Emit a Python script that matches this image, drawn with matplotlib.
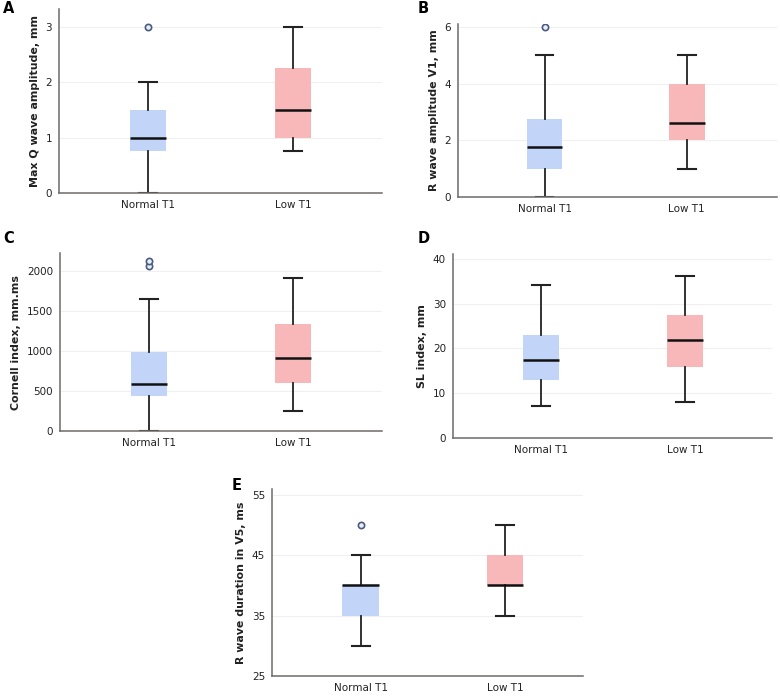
import matplotlib
matplotlib.use('Agg')
import matplotlib.pyplot as plt

# Categories
groups = ['Normal T1', 'Low T1']
panel_letters = ['A', 'B', 'C', 'D', 'E']
y_labels = ['Max Q wave amplitude, mm', 'R wave amplitude V1, mm',
            'Cornell index, mm.ms', 'SL index, mm', 'R wave duration in V5, ms']

# Box statistics per panel: [Normal T1, Low T1]
whislo = [[0, 0.75], [0, 1.0], [0, 255], [7.1, 8.1], [30, 35]]
q1 = [[0.75, 1.0], [1.0, 2.0], [440, 600], [13.0, 15.9], [35, 40]]
med = [[1.0, 1.5], [1.75, 2.63], [585, 915], [17.4, 22.0], [40, 40]]
q3 = [[1.5, 2.25], [2.75, 4.0], [985, 1335], [23.0, 27.5], [40, 45]]
whishi = [[2.0, 3.0], [5.0, 5.0], [1645, 1905], [34.1, 36.2], [45, 50]]
outliers = [[[3.0], []], [[6.0], []], [[2060, 2120], []], [[], []], [[50], []]]

# Axis settings
y_ticks = [[0, 1, 2, 3], [0, 2, 4, 6], [0, 500, 1000, 1500, 2000],
           [0, 10, 20, 30, 40], [25, 35, 45, 55]]
y_lims = [(0, 3.32), (0, 6.11), (0, 2220), (0, 41.1), (25, 55.95)]
x_lims = [(-0.614, 1.614), (-0.608, 1.634), (-0.614, 1.614), (-0.608, 1.6), (-0.613, 1.54)]

# axes rects in pixels: left, right, top, bottom
W, H = 780, 698
rects_px = [(59, 382, 9, 193), (458, 777, 24, 197), (60, 382, 253, 431),
            (453, 772, 254, 438), (272, 583, 489, 676)]
letter_px = [(3, 13), (418, 13), (3, 243), (418, 243), (232, 490)]

box_colors = ['#c2d5f8', '#f8b8ba']

fig = plt.figure(figsize=(W / 100, H / 100), dpi=100)

for i in range(5):
    l, r, t, b = rects_px[i]
    ax = fig.add_axes([l / W, 1 - b / H, (r - l) / W, (b - t) / H])
    stats = []
    for j in range(2):
        stats.append(dict(label=groups[j], whislo=whislo[i][j], q1=q1[i][j],
                          med=med[i][j], q3=q3[i][j], whishi=whishi[i][j],
                          fliers=outliers[i][j]))
    bp = ax.bxp(stats, positions=[0, 1], widths=0.25, patch_artist=True,
                showfliers=True,
                boxprops=dict(linewidth=0),
                medianprops=dict(color='#111111', linewidth=1.8),
                whiskerprops=dict(color='#222222', linewidth=1.3),
                capprops=dict(color='#222222', linewidth=1.5),
                flierprops=dict(marker='o', markersize=4.5, markerfacecolor='#e8eefa',
                                markeredgecolor='#4a5a80', markeredgewidth=1.2),
                capwidths=0.125)
    for patch, c in zip(bp['boxes'], box_colors):
        patch.set_facecolor(c)
        patch.set_edgecolor(c)
    ax.set_xlim(*x_lims[i])
    ax.set_ylim(*y_lims[i])
    ax.set_yticks(y_ticks[i])
    ax.yaxis.grid(True, color='#f0f0f0', linewidth=0.8)
    ax.set_axisbelow(True)
    for s in ['top', 'right']:
        ax.spines[s].set_visible(False)
    for s in ['left', 'bottom']:
        ax.spines[s].set_color('#6e6a6a')
        ax.spines[s].set_linewidth(1.1)
    ax.tick_params(axis='both', length=0, labelsize=7.5, colors='#222222', pad=5)
    ax.set_ylabel(y_labels[i], fontsize=7.9, fontweight='bold', color='#222222')
    fig.text(letter_px[i][0] / W, 1 - letter_px[i][1] / H, panel_letters[i],
             fontsize=10.5, fontweight='bold', ha='left', va='baseline')

fig.savefig('out.png', dpi=100)
